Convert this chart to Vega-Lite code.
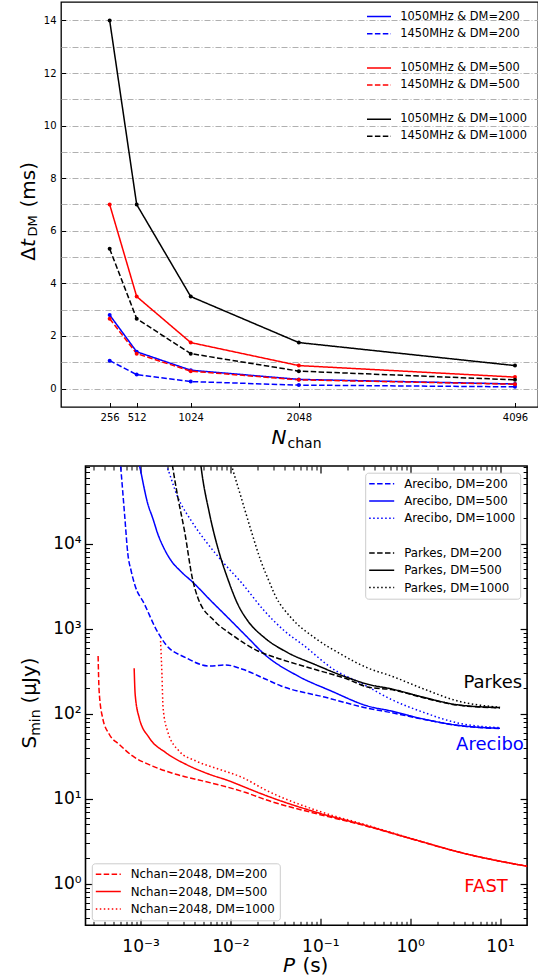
{
  "$schema": "https://vega.github.io/schema/vega-lite/v6.json",
  "padding": {"left": 17, "top": 1, "right": 0, "bottom": 0},
  "spacing": 12,
  "config": {
    "font": "DejaVu Sans",
    "axis": {"domain": false, "grid": false, "labelFont": "DejaVu Sans", "titleFont": "DejaVu Sans", "labelColor": "#000000", "titleColor": "#000000", "tickColor": "#000000", "titleFontWeight": "normal", "labelFontWeight": "normal"},
    "legend": {"labelFont": "DejaVu Sans", "labelColor": "#000000"}
  },
  "datasets": {
    "top": [
      {"s": "1050MHz & DM=200", "n": 256, "dt": 2.8}, {"s": "1050MHz & DM=200", "n": 512, "dt": 1.4}, {"s": "1050MHz & DM=200", "n": 1024, "dt": 0.7}, {"s": "1050MHz & DM=200", "n": 2048, "dt": 0.35}, {"s": "1050MHz & DM=200", "n": 4096, "dt": 0.175},
      {"s": "1450MHz & DM=200", "n": 256, "dt": 1.063}, {"s": "1450MHz & DM=200", "n": 512, "dt": 0.532}, {"s": "1450MHz & DM=200", "n": 1024, "dt": 0.266}, {"s": "1450MHz & DM=200", "n": 2048, "dt": 0.133}, {"s": "1450MHz & DM=200", "n": 4096, "dt": 0.066},
      {"s": "1050MHz & DM=500", "n": 256, "dt": 7.0}, {"s": "1050MHz & DM=500", "n": 512, "dt": 3.5}, {"s": "1050MHz & DM=500", "n": 1024, "dt": 1.75}, {"s": "1050MHz & DM=500", "n": 2048, "dt": 0.875}, {"s": "1050MHz & DM=500", "n": 4096, "dt": 0.4375},
      {"s": "1450MHz & DM=500", "n": 256, "dt": 2.658}, {"s": "1450MHz & DM=500", "n": 512, "dt": 1.329}, {"s": "1450MHz & DM=500", "n": 1024, "dt": 0.664}, {"s": "1450MHz & DM=500", "n": 2048, "dt": 0.332}, {"s": "1450MHz & DM=500", "n": 4096, "dt": 0.166},
      {"s": "1050MHz & DM=1000", "n": 256, "dt": 14.0}, {"s": "1050MHz & DM=1000", "n": 512, "dt": 7.0}, {"s": "1050MHz & DM=1000", "n": 1024, "dt": 3.5}, {"s": "1050MHz & DM=1000", "n": 2048, "dt": 1.75}, {"s": "1050MHz & DM=1000", "n": 4096, "dt": 0.875},
      {"s": "1450MHz & DM=1000", "n": 256, "dt": 5.316}, {"s": "1450MHz & DM=1000", "n": 512, "dt": 2.658}, {"s": "1450MHz & DM=1000", "n": 1024, "dt": 1.329}, {"s": "1450MHz & DM=1000", "n": 2048, "dt": 0.664}, {"s": "1450MHz & DM=1000", "n": 4096, "dt": 0.332}
    ],
    "ap": [
      {"s": "Arecibo, DM=200", "P": 0.00058, "S": 124000}, {"s": "Arecibo, DM=200", "P": 0.0006, "S": 82000}, {"s": "Arecibo, DM=200", "P": 0.000664, "S": 22200}, {"s": "Arecibo, DM=200", "P": 0.000722, "S": 7570}, {"s": "Arecibo, DM=200", "P": 0.000786, "S": 4775}, {"s": "Arecibo, DM=200", "P": 0.000864, "S": 3266}, {"s": "Arecibo, DM=200", "P": 0.001107, "S": 1937}, {"s": "Arecibo, DM=200", "P": 0.00149, "S": 984}, {"s": "Arecibo, DM=200", "P": 0.0019, "S": 655}, {"s": "Arecibo, DM=200", "P": 0.00319, "S": 456}, {"s": "Arecibo, DM=200", "P": 0.0058, "S": 364}, {"s": "Arecibo, DM=200", "P": 0.0089, "S": 374}, {"s": "Arecibo, DM=200", "P": 0.01365, "S": 333}, {"s": "Arecibo, DM=200", "P": 0.0248, "S": 254}, {"s": "Arecibo, DM=200", "P": 0.0366, "S": 212}, {"s": "Arecibo, DM=200", "P": 0.111, "S": 157}, {"s": "Arecibo, DM=200", "P": 0.337, "S": 116}, {"s": "Arecibo, DM=200", "P": 0.613, "S": 103}, {"s": "Arecibo, DM=200", "P": 1.44, "S": 85.5}, {"s": "Arecibo, DM=200", "P": 3.38, "S": 72.5}, {"s": "Arecibo, DM=200", "P": 10, "S": 67},
      {"s": "Arecibo, DM=500", "P": 0.00092, "S": 107000}, {"s": "Arecibo, DM=500", "P": 0.000975, "S": 82000}, {"s": "Arecibo, DM=500", "P": 0.001205, "S": 29300}, {"s": "Arecibo, DM=500", "P": 0.00137, "S": 19800}, {"s": "Arecibo, DM=500", "P": 0.001556, "S": 13000}, {"s": "Arecibo, DM=500", "P": 0.001815, "S": 8900}, {"s": "Arecibo, DM=500", "P": 0.00219, "S": 6310}, {"s": "Arecibo, DM=500", "P": 0.00281, "S": 4710}, {"s": "Arecibo, DM=500", "P": 0.00382, "S": 3515}, {"s": "Arecibo, DM=500", "P": 0.0061, "S": 2118}, {"s": "Arecibo, DM=500", "P": 0.00977, "S": 1291}, {"s": "Arecibo, DM=500", "P": 0.0156, "S": 784}, {"s": "Arecibo, DM=500", "P": 0.0239, "S": 500}, {"s": "Arecibo, DM=500", "P": 0.0562, "S": 278}, {"s": "Arecibo, DM=500", "P": 0.132, "S": 185}, {"s": "Arecibo, DM=500", "P": 0.337, "S": 123}, {"s": "Arecibo, DM=500", "P": 0.613, "S": 107.6}, {"s": "Arecibo, DM=500", "P": 1.44, "S": 86}, {"s": "Arecibo, DM=500", "P": 3.38, "S": 73}, {"s": "Arecibo, DM=500", "P": 10, "S": 67.3},
      {"s": "Arecibo, DM=1000", "P": 0.0018, "S": 104000}, {"s": "Arecibo, DM=1000", "P": 0.00198, "S": 79200}, {"s": "Arecibo, DM=1000", "P": 0.0026, "S": 35150}, {"s": "Arecibo, DM=1000", "P": 0.00366, "S": 18650}, {"s": "Arecibo, DM=1000", "P": 0.00561, "S": 9910}, {"s": "Arecibo, DM=1000", "P": 0.0086, "S": 5770}, {"s": "Arecibo, DM=1000", "P": 0.01315, "S": 3515}, {"s": "Arecibo, DM=1000", "P": 0.0239, "S": 1616}, {"s": "Arecibo, DM=1000", "P": 0.04, "S": 940}, {"s": "Arecibo, DM=1000", "P": 0.0667, "S": 626}, {"s": "Arecibo, DM=1000", "P": 0.132, "S": 348}, {"s": "Arecibo, DM=1000", "P": 0.31, "S": 218}, {"s": "Arecibo, DM=1000", "P": 0.613, "S": 147.6}, {"s": "Arecibo, DM=1000", "P": 1.44, "S": 102.8}, {"s": "Arecibo, DM=1000", "P": 3.38, "S": 77.8}, {"s": "Arecibo, DM=1000", "P": 10, "S": 68.4},
      {"s": "Parkes, DM=200", "P": 0.00219, "S": 105000}, {"s": "Parkes, DM=200", "P": 0.00228, "S": 79200}, {"s": "Parkes, DM=200", "P": 0.0026, "S": 35150}, {"s": "Parkes, DM=200", "P": 0.00308, "S": 14220}, {"s": "Parkes, DM=200", "P": 0.00382, "S": 3670}, {"s": "Parkes, DM=200", "P": 0.00434, "S": 2316}, {"s": "Parkes, DM=200", "P": 0.00665, "S": 1233}, {"s": "Parkes, DM=200", "P": 0.0102, "S": 859}, {"s": "Parkes, DM=200", "P": 0.0202, "S": 547}, {"s": "Parkes, DM=200", "P": 0.0366, "S": 436}, {"s": "Parkes, DM=200", "P": 0.0861, "S": 333}, {"s": "Parkes, DM=200", "P": 0.202, "S": 254}, {"s": "Parkes, DM=200", "P": 0.337, "S": 206}, {"s": "Parkes, DM=200", "P": 0.613, "S": 192}, {"s": "Parkes, DM=200", "P": 1.44, "S": 153}, {"s": "Parkes, DM=200", "P": 3.38, "S": 126}, {"s": "Parkes, DM=200", "P": 10, "S": 117},
      {"s": "Parkes, DM=500", "P": 0.00457, "S": 105000}, {"s": "Parkes, DM=500", "P": 0.00472, "S": 79200}, {"s": "Parkes, DM=500", "P": 0.00586, "S": 22350}, {"s": "Parkes, DM=500", "P": 0.00757, "S": 7570}, {"s": "Parkes, DM=500", "P": 0.00935, "S": 3845}, {"s": "Parkes, DM=500", "P": 0.01208, "S": 1937}, {"s": "Parkes, DM=500", "P": 0.01563, "S": 1233}, {"s": "Parkes, DM=500", "P": 0.0239, "S": 784}, {"s": "Parkes, DM=500", "P": 0.0435, "S": 522}, {"s": "Parkes, DM=500", "P": 0.0861, "S": 381}, {"s": "Parkes, DM=500", "P": 0.202, "S": 265}, {"s": "Parkes, DM=500", "P": 0.337, "S": 222}, {"s": "Parkes, DM=500", "P": 0.613, "S": 196}, {"s": "Parkes, DM=500", "P": 1.44, "S": 155}, {"s": "Parkes, DM=500", "P": 3.38, "S": 127}, {"s": "Parkes, DM=500", "P": 10, "S": 118},
      {"s": "Parkes, DM=1000", "P": 0.00973, "S": 105000}, {"s": "Parkes, DM=1000", "P": 0.01045, "S": 79200}, {"s": "Parkes, DM=1000", "P": 0.01315, "S": 35150}, {"s": "Parkes, DM=1000", "P": 0.017, "S": 14220}, {"s": "Parkes, DM=1000", "P": 0.022, "S": 6090}, {"s": "Parkes, DM=1000", "P": 0.0272, "S": 3515}, {"s": "Parkes, DM=1000", "P": 0.031, "S": 2540}, {"s": "Parkes, DM=1000", "P": 0.0473, "S": 1347}, {"s": "Parkes, DM=1000", "P": 0.0861, "S": 784}, {"s": "Parkes, DM=1000", "P": 0.17, "S": 500}, {"s": "Parkes, DM=1000", "P": 0.337, "S": 345}, {"s": "Parkes, DM=1000", "P": 0.613, "S": 278}, {"s": "Parkes, DM=1000", "P": 1.44, "S": 194}, {"s": "Parkes, DM=1000", "P": 3.38, "S": 141}, {"s": "Parkes, DM=1000", "P": 10, "S": 119}
    ],
    "fast": [
      {"s": "Nchan=2048, DM=200", "P": 0.000337, "S": 477}, {"s": "Nchan=2048, DM=200", "P": 0.000346, "S": 185}, {"s": "Nchan=2048, DM=200", "P": 0.000378, "S": 89.7}, {"s": "Nchan=2048, DM=200", "P": 0.000448, "S": 57.3}, {"s": "Nchan=2048, DM=200", "P": 0.000578, "S": 43.6}, {"s": "Nchan=2048, DM=200", "P": 0.000815, "S": 31.8}, {"s": "Nchan=2048, DM=200", "P": 0.00136, "S": 24.2}, {"s": "Nchan=2048, DM=200", "P": 0.00247, "S": 19.4}, {"s": "Nchan=2048, DM=200", "P": 0.0049, "S": 16.2}, {"s": "Nchan=2048, DM=200", "P": 0.00968, "S": 13.5}, {"s": "Nchan=2048, DM=200", "P": 0.01484, "S": 11.8}, {"s": "Nchan=2048, DM=200", "P": 0.0248, "S": 9.7}, {"s": "Nchan=2048, DM=200", "P": 0.0937, "S": 6.6}, {"s": "Nchan=2048, DM=200", "P": 0.337, "S": 4.72}, {"s": "Nchan=2048, DM=200", "P": 0.94, "S": 3.46}, {"s": "Nchan=2048, DM=200", "P": 4.37, "S": 2.22}, {"s": "Nchan=2048, DM=200", "P": 22, "S": 1.575},
      {"s": "Nchan=2048, DM=500", "P": 0.000849, "S": 342}, {"s": "Nchan=2048, DM=500", "P": 0.000871, "S": 169}, {"s": "Nchan=2048, DM=500", "P": 0.000965, "S": 89.7}, {"s": "Nchan=2048, DM=500", "P": 0.001247, "S": 52.2}, {"s": "Nchan=2048, DM=500", "P": 0.00191, "S": 34.8}, {"s": "Nchan=2048, DM=500", "P": 0.00319, "S": 25.4}, {"s": "Nchan=2048, DM=500", "P": 0.0058, "S": 19.4}, {"s": "Nchan=2048, DM=500", "P": 0.00968, "S": 16.2}, {"s": "Nchan=2048, DM=500", "P": 0.01484, "S": 13.5}, {"s": "Nchan=2048, DM=500", "P": 0.0248, "S": 10.9}, {"s": "Nchan=2048, DM=500", "P": 0.0937, "S": 6.84}, {"s": "Nchan=2048, DM=500", "P": 0.337, "S": 4.77}, {"s": "Nchan=2048, DM=500", "P": 0.94, "S": 3.48}, {"s": "Nchan=2048, DM=500", "P": 4.37, "S": 2.22}, {"s": "Nchan=2048, DM=500", "P": 22, "S": 1.575},
      {"s": "Nchan=2048, DM=1000", "P": 0.00167, "S": 717}, {"s": "Nchan=2048, DM=1000", "P": 0.00173, "S": 291}, {"s": "Nchan=2048, DM=1000", "P": 0.00178, "S": 117.7}, {"s": "Nchan=2048, DM=1000", "P": 0.001995, "S": 62.6}, {"s": "Nchan=2048, DM=1000", "P": 0.00268, "S": 36.4}, {"s": "Nchan=2048, DM=1000", "P": 0.00412, "S": 27.8}, {"s": "Nchan=2048, DM=1000", "P": 0.00748, "S": 22.2}, {"s": "Nchan=2048, DM=1000", "P": 0.01365, "S": 17.7}, {"s": "Nchan=2048, DM=1000", "P": 0.0248, "S": 12.6}, {"s": "Nchan=2048, DM=1000", "P": 0.0937, "S": 7.2}, {"s": "Nchan=2048, DM=1000", "P": 0.337, "S": 4.85}, {"s": "Nchan=2048, DM=1000", "P": 0.94, "S": 3.5}, {"s": "Nchan=2048, DM=1000", "P": 4.37, "S": 2.22}, {"s": "Nchan=2048, DM=1000", "P": 22, "S": 1.575}
    ]
  },
  "vconcat": [
    {
      "width": 477,
      "height": 405,
      "view": {"stroke": "#000000", "strokeWidth": 1.3},
      "data": {"name": "top"},
      "resolve": {"axis": {"x": "independent", "y": "independent"}},
      "layer": [
        {
          "mark": {"type": "line", "strokeWidth": 1.5, "clip": true},
          "encoding": {
            "x": {"field": "n", "type": "quantitative", "scale": {"domain": [-205, 4314], "nice": false, "zero": false},
              "axis": {"orient": "bottom", "values": [256, 512, 1024, 2048, 4096], "format": "d", "tickSize": -4.5, "tickWidth": 1, "labelFontSize": 10, "labelBaseline": "alphabetic", "labelPadding": 17.5, "labelOverlap": false,
                "title": "N", "titleFontSize": 20, "titleFontStyle": "italic", "titleX": 210, "titleY": 36.3, "titleAngle": 0, "titleAlign": "left", "titleBaseline": "alphabetic"}},
            "y": {"field": "dt", "type": "quantitative", "scale": {"domain": [-0.7, 14.7], "nice": false, "zero": false},
              "axis": {"orient": "left", "values": [0, 1, 2, 3, 4, 5, 6, 7, 8, 9, 10, 11, 12, 13, 14], "grid": true, "gridDash": [6, 2, 1, 2], "gridColor": "#b0b0b0", "gridWidth": 1,
                "tickSize": -4.5, "tickWidth": 1, "tickOpacity": {"condition": {"test": "datum.value % 2 == 1", "value": 0}, "value": 1},
                "labelExpr": "datum.value % 2 == 0 ? datum.label : ''", "labelFontSize": 10, "labelPadding": 9.5, "labelOverlap": false,
                "title": "Δ", "titleFontSize": 20, "titleX": -27, "titleY": 258.3, "titleAngle": 270, "titleAlign": "left", "titleBaseline": "alphabetic"}},
            "color": {"field": "s", "type": "nominal",
              "scale": {"domain": ["1050MHz & DM=200", "1450MHz & DM=200", " ", "1050MHz & DM=500", "1450MHz & DM=500", "  ", "1050MHz & DM=1000", "1450MHz & DM=1000"],
                "range": ["#0000ff", "#0000ff", "rgba(0,0,0,0)", "#ff0000", "#ff0000", "rgba(0,0,0,0)", "#000000", "#000000"]},
              "legend": {"orient": "none", "legendX": 306, "legendY": 7.6, "title": null, "symbolType": "M-2,0H2", "symbolSize": 144, "symbolOffset": 5, "symbolStrokeWidth": 1.5, "labelFontSize": 11.4, "labelOffset": 14.3, "padding": 0, "rowPadding": 4.1}},
            "strokeDash": {"field": "s", "type": "nominal",
              "scale": {"domain": ["1050MHz & DM=200", "1450MHz & DM=200", " ", "1050MHz & DM=500", "1450MHz & DM=500", "  ", "1050MHz & DM=1000", "1450MHz & DM=1000"],
                "range": [[1, 0], [5.5, 2.4], [1, 0], [1, 0], [5.5, 2.4], [1, 0], [1, 0], [5.5, 2.4]]},
              "legend": {"orient": "none", "legendX": 306, "legendY": 7.6, "title": null, "symbolType": "M-2,0H2", "symbolSize": 144, "symbolOffset": 5, "symbolStrokeWidth": 1.5, "labelFontSize": 11.4, "labelOffset": 14.3, "padding": 0, "rowPadding": 4.1}}
          }
        },
        {
          "mark": {"type": "point", "filled": true, "size": 16, "opacity": 1, "clip": true},
          "encoding": {
            "x": {"field": "n", "type": "quantitative", "scale": {"domain": [-205, 4314], "nice": false, "zero": false},
              "axis": {"orient": "bottom", "ticks": false, "labels": false, "grid": false, "title": "chan", "titleFontSize": 14, "titleX": 226, "titleY": 40, "titleAngle": 0, "titleAlign": "left", "titleBaseline": "alphabetic"}},
            "y": {"field": "dt", "type": "quantitative", "scale": {"domain": [-0.7, 14.7], "nice": false, "zero": false},
              "axis": {"orient": "left", "ticks": false, "labels": false, "grid": false, "title": "t", "titleFontStyle": "italic", "titleFontSize": 20, "titleX": -27, "titleY": 244.6, "titleAngle": 270, "titleAlign": "left", "titleBaseline": "alphabetic"}},
            "color": {"field": "s", "type": "nominal", "legend": null}
          }
        },
        {
          "mark": {"type": "point", "opacity": 0},
          "encoding": {
            "x": {"field": "n", "type": "quantitative", "scale": {"domain": [-205, 4314], "nice": false, "zero": false}, "axis": null},
            "y": {"field": "dt", "type": "quantitative", "scale": {"domain": [-0.7, 14.7], "nice": false, "zero": false},
              "axis": {"orient": "left", "ticks": false, "labels": false, "grid": false, "title": "DM", "titleFontSize": 13, "titleX": -25, "titleY": 234, "titleAngle": 270, "titleAlign": "left", "titleBaseline": "alphabetic"}}
          }
        },
        {
          "mark": {"type": "point", "opacity": 0},
          "encoding": {
            "x": {"field": "n", "type": "quantitative", "scale": {"domain": [-205, 4314], "nice": false, "zero": false}, "axis": null},
            "y": {"field": "dt", "type": "quantitative", "scale": {"domain": [-0.7, 14.7], "nice": false, "zero": false},
              "axis": {"orient": "left", "ticks": false, "labels": false, "grid": false, "title": "(ms)", "titleFontSize": 20, "titleX": -27, "titleY": 205, "titleAngle": 270, "titleAlign": "left", "titleBaseline": "alphabetic"}}
          }
        }
      ]
    },
    {
      "spacing": -46.5,
      "hconcat": [
        {
          "width": 1,
          "height": 1,
          "view": {"stroke": null},
          "data": {"values": [{"a": 0}]},
          "mark": {"type": "point", "opacity": 0}
        },
        {
          "width": 441.6,
          "height": 459.3,
          "view": {"stroke": "#000000", "strokeWidth": 1.6},
          "resolve": {"scale": {"color": "independent", "strokeDash": "independent"}, "legend": {"color": "independent", "strokeDash": "independent"}, "axis": {"x": "independent", "y": "independent"}},
          "layer": [
            {
              "data": {"name": "ap"},
              "mark": {"type": "line", "strokeWidth": 1.5, "clip": true, "interpolate": "monotone"},
              "encoding": {
                "x": {"field": "P", "type": "quantitative", "scale": {"type": "log", "domain": [0.000244, 20], "nice": false},
                  "axis": {"orient": "bottom", "values": [0.001, 0.01, 0.1, 1, 10], "tickSize": -7, "tickWidth": 1.2, "labelFontSize": 17, "labelBaseline": "alphabetic", "labelPadding": 32.7, "labelOverlap": false,
                    "labelExpr": "datum.value < 0.005 ? '10⁻³' : datum.value < 0.05 ? '10⁻²' : datum.value < 0.5 ? '10⁻¹' : datum.value < 5 ? '10⁰' : '10¹'",
                    "title": "P", "titleFontStyle": "italic", "titleFontSize": 20, "titleX": 197, "titleY": 46.5, "titleAngle": 0, "titleAlign": "left", "titleBaseline": "alphabetic"}},
                "y": {"field": "S", "type": "quantitative", "scale": {"type": "log", "domain": [0.324, 82000], "nice": false},
                  "axis": {"orient": "left", "values": [1, 10, 100, 1000, 10000], "tickSize": -7, "tickWidth": 1.2, "labelFontSize": 17, "labelPadding": 11.4, "labelOverlap": false,
                    "labelExpr": "datum.value < 5 ? '10⁰' : datum.value < 50 ? '10¹' : datum.value < 500 ? '10²' : datum.value < 5000 ? '10³' : '10⁴'",
                    "title": "S", "titleFontSize": 20, "titleX": -50, "titleY": 282, "titleAngle": 270, "titleAlign": "left", "titleBaseline": "alphabetic"}},
                "color": {"field": "s", "type": "nominal",
                  "scale": {"domain": ["Arecibo, DM=200", "Arecibo, DM=500", "Arecibo, DM=1000", " ", "Parkes, DM=200", "Parkes, DM=500", "Parkes, DM=1000"],
                    "range": ["#0000ff", "#0000ff", "#0000ff", "rgba(0,0,0,0)", "#000000", "#000000", "#000000"]},
                  "legend": {"orient": "none", "legendX": 279.7, "legendY": 6.7, "title": null, "symbolType": "M-2,0H2", "symbolSize": 156.25, "symbolOffset": 5.5, "symbolStrokeWidth": 1.5, "labelFontSize": 11.8, "labelOffset": 15.5, "padding": 4, "rowPadding": 3.3, "strokeColor": "#cccccc", "fillColor": "rgba(255,255,255,0.8)", "cornerRadius": 3}},
                "strokeDash": {"field": "s", "type": "nominal",
                  "scale": {"domain": ["Arecibo, DM=200", "Arecibo, DM=500", "Arecibo, DM=1000", " ", "Parkes, DM=200", "Parkes, DM=500", "Parkes, DM=1000"],
                    "range": [[5.5, 2.4], [1, 0], [1.5, 2.5], [1, 0], [5.5, 2.4], [1, 0], [1.5, 2.5]]},
                  "legend": {"orient": "none", "legendX": 279.7, "legendY": 6.7, "title": null, "symbolType": "M-2,0H2", "symbolSize": 156.25, "symbolOffset": 5.5, "symbolStrokeWidth": 1.5, "labelFontSize": 11.8, "labelOffset": 15.5, "padding": 4, "rowPadding": 3.3, "strokeColor": "#cccccc", "fillColor": "rgba(255,255,255,0.8)", "cornerRadius": 3}}
              }
            },
            {
              "data": {"name": "fast"},
              "mark": {"type": "line", "strokeWidth": 1.5, "clip": true, "interpolate": "monotone"},
              "encoding": {
                "x": {"field": "P", "type": "quantitative", "scale": {"type": "log", "domain": [0.000244, 20], "nice": false},
                  "axis": {"orient": "bottom", "values": [0.0003, 0.0004, 0.0005, 0.0006, 0.0007, 0.0008, 0.0009, 0.002, 0.003, 0.004, 0.005, 0.006, 0.007, 0.008, 0.009, 0.02, 0.03, 0.04, 0.05, 0.06, 0.07, 0.08, 0.09, 0.2, 0.3, 0.4, 0.5, 0.6, 0.7, 0.8, 0.9, 2, 3, 4, 5, 6, 7, 8, 9], "tickSize": -4, "tickWidth": 1, "labels": false,
                    "title": "(s)", "titleFontSize": 20, "titleX": 216.4, "titleY": 46.5, "titleAngle": 0, "titleAlign": "left", "titleBaseline": "alphabetic"}},
                "y": {"field": "S", "type": "quantitative", "scale": {"type": "log", "domain": [0.324, 82000], "nice": false},
                  "axis": {"orient": "left", "values": [0.4, 0.5, 0.6, 0.7, 0.8, 0.9, 2, 3, 4, 5, 6, 7, 8, 9, 20, 30, 40, 50, 60, 70, 80, 90, 200, 300, 400, 500, 600, 700, 800, 900, 2000, 3000, 4000, 5000, 6000, 7000, 8000, 9000, 20000, 30000, 40000, 50000, 60000, 70000, 80000], "tickSize": -4, "tickWidth": 1, "labels": false,
                    "title": "min", "titleFontSize": 14, "titleX": -46, "titleY": 269.3, "titleAngle": 270, "titleAlign": "left", "titleBaseline": "alphabetic"}},
                "color": {"field": "s", "type": "nominal",
                  "scale": {"domain": ["Nchan=2048, DM=200", "Nchan=2048, DM=500", "Nchan=2048, DM=1000"], "range": ["#ff0000", "#ff0000", "#ff0000"]},
                  "legend": {"orient": "none", "legendX": 6.3, "legendY": 397.3, "title": null, "symbolType": "M-2,0H2", "symbolSize": 156.25, "symbolOffset": 5.5, "symbolStrokeWidth": 1.5, "labelFontSize": 11.8, "labelOffset": 15.5, "padding": 4, "rowPadding": 3.3, "strokeColor": "#cccccc", "fillColor": "rgba(255,255,255,0.8)", "cornerRadius": 3}},
                "strokeDash": {"field": "s", "type": "nominal",
                  "scale": {"domain": ["Nchan=2048, DM=200", "Nchan=2048, DM=500", "Nchan=2048, DM=1000"], "range": [[5.5, 2.4], [1, 0], [1.5, 2.5]]},
                  "legend": {"orient": "none", "legendX": 6.3, "legendY": 397.3, "title": null, "symbolType": "M-2,0H2", "symbolSize": 156.25, "symbolOffset": 5.5, "symbolStrokeWidth": 1.5, "labelFontSize": 11.8, "labelOffset": 15.5, "padding": 4, "rowPadding": 3.3, "strokeColor": "#cccccc", "fillColor": "rgba(255,255,255,0.8)", "cornerRadius": 3}}
              }
            },
            {
              "data": {"values": [{"label": "Parkes", "P": 17.6, "S": 202}]},
              "mark": {"type": "text", "align": "right", "baseline": "alphabetic", "fontSize": 18, "color": "#000000", "font": "DejaVu Sans"},
              "encoding": {
                "text": {"field": "label"},
                "x": {"field": "P", "type": "quantitative", "scale": {"type": "log", "domain": [0.000244, 20], "nice": false},
                  "axis": {"orient": "top", "values": [0.001, 0.01, 0.1, 1, 10], "tickSize": -7, "tickWidth": 1.2, "labels": false, "title": null}},
                "y": {"field": "S", "type": "quantitative", "scale": {"type": "log", "domain": [0.324, 82000], "nice": false},
                  "axis": {"orient": "right", "values": [1, 10, 100, 1000, 10000], "tickSize": -7, "tickWidth": 1.2, "labels": false,
                    "title": "(μJy)", "titleFontSize": 20, "titleX": -491.6, "titleY": 237, "titleAngle": 270, "titleAlign": "left", "titleBaseline": "alphabetic"}}
              }
            },
            {
              "data": {"values": [{"label": "Arecibo", "P": 18.4, "S": 37.1}]},
              "mark": {"type": "text", "align": "right", "baseline": "alphabetic", "fontSize": 18, "color": "#0000ff", "font": "DejaVu Sans"},
              "encoding": {
                "text": {"field": "label"},
                "x": {"field": "P", "type": "quantitative", "scale": {"type": "log", "domain": [0.000244, 20], "nice": false},
                  "axis": {"orient": "top", "values": [0.0003, 0.0004, 0.0005, 0.0006, 0.0007, 0.0008, 0.0009, 0.002, 0.003, 0.004, 0.005, 0.006, 0.007, 0.008, 0.009, 0.02, 0.03, 0.04, 0.05, 0.06, 0.07, 0.08, 0.09, 0.2, 0.3, 0.4, 0.5, 0.6, 0.7, 0.8, 0.9, 2, 3, 4, 5, 6, 7, 8, 9], "tickSize": -4, "tickWidth": 1, "labels": false, "title": null}},
                "y": {"field": "S", "type": "quantitative", "scale": {"type": "log", "domain": [0.324, 82000], "nice": false},
                  "axis": {"orient": "right", "values": [0.4, 0.5, 0.6, 0.7, 0.8, 0.9, 2, 3, 4, 5, 6, 7, 8, 9, 20, 30, 40, 50, 60, 70, 80, 90, 200, 300, 400, 500, 600, 700, 800, 900, 2000, 3000, 4000, 5000, 6000, 7000, 8000, 9000, 20000, 30000, 40000, 50000, 60000, 70000, 80000], "tickSize": -4, "tickWidth": 1, "labels": false, "title": null}}
              }
            },
            {
              "data": {"values": [{"label": "FAST", "P": 12.2, "S": 0.8}]},
              "mark": {"type": "text", "align": "right", "baseline": "alphabetic", "fontSize": 18, "color": "#ff0000", "font": "DejaVu Sans"},
              "encoding": {
                "text": {"field": "label"},
                "x": {"field": "P", "type": "quantitative", "scale": {"type": "log", "domain": [0.000244, 20], "nice": false}, "axis": null},
                "y": {"field": "S", "type": "quantitative", "scale": {"type": "log", "domain": [0.324, 82000], "nice": false}, "axis": null}
              }
            }
          ]
        }
      ]
    }
  ]
}
